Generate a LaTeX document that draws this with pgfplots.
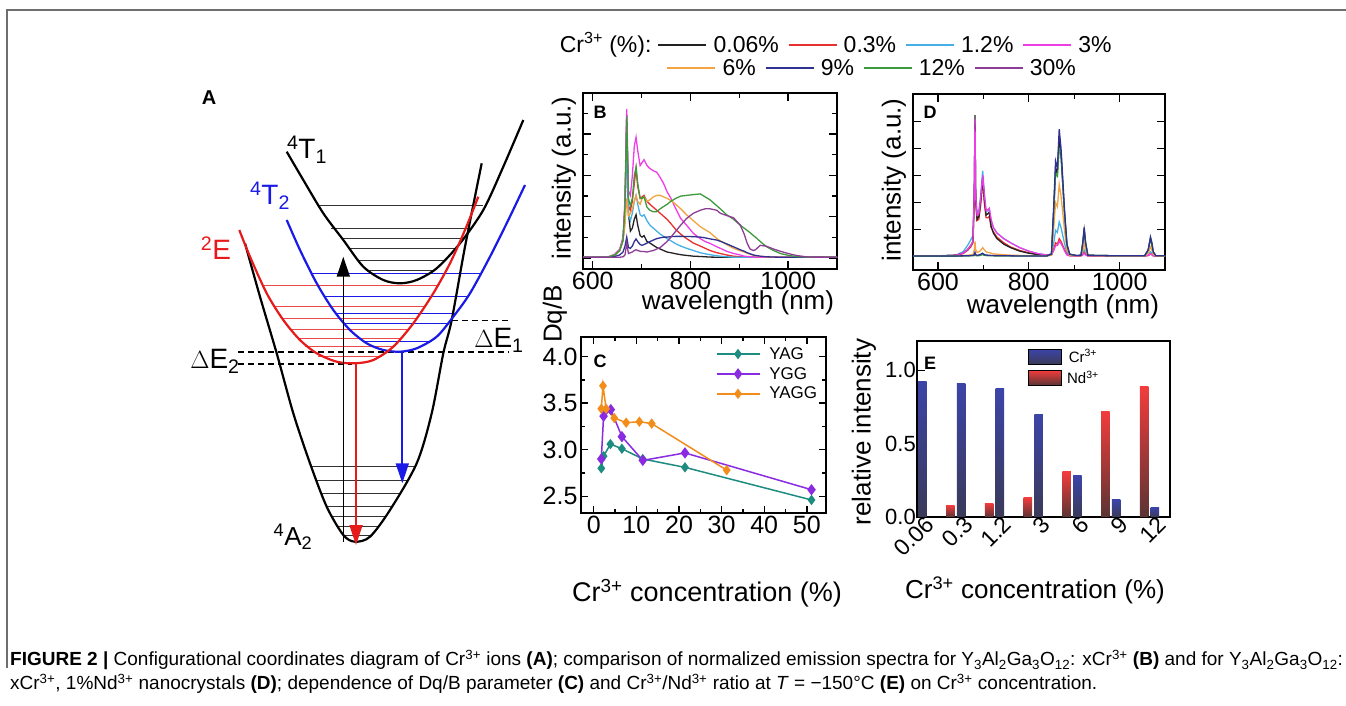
\documentclass[border=0pt]{standalone}
\usepackage{fontspec}
\setmainfont{Liberation Sans}
\usepackage{pgfplots}
\pgfplotsset{compat=1.18}
\usepackage{pgfplotstable}
\usetikzlibrary{arrows.meta}
\newcommand{\fs}[1]{\fontsize{#1}{#1}\selectfont}
\definecolor{cBk}{HTML}{222222}
\definecolor{cRd}{HTML}{E8302E}
\definecolor{cLb}{HTML}{45B0E5}
\definecolor{cMg}{HTML}{EE3DE6}
\definecolor{cOr}{HTML}{F2A444}
\definecolor{cNv}{HTML}{2E3192}
\definecolor{cGr}{HTML}{3C9A3C}
\definecolor{cPu}{HTML}{8E3D96}
\definecolor{cTeal}{HTML}{1E8C80}
\definecolor{cViolet}{HTML}{8A2BE2}
\definecolor{cOrC}{HTML}{F28C1A}
\definecolor{barB1}{HTML}{3C44A8}
\definecolor{barB2}{HTML}{3A3A58}
\definecolor{barR1}{HTML}{F23C3C}
\definecolor{barR2}{HTML}{5A3434}
\definecolor{aBlue}{HTML}{1A1AE6}
\definecolor{aRed}{HTML}{E61A1A}
\definecolor{frameGray}{HTML}{6E6E6E}

\pgfplotstableread{
x bk rd lb mg or nv gr pu
580 .005 .005 .005 .005 .005 .005 .005 .005
630 .005 .005 .005 .005 .005 .005 .005 .005
645 .02 .02 .02 .025 .02 .01 .02 .005
655 .05 .05 .05 .06 .05 .02 .05 .005
662 .12 .12 .12 .14 .12 .04 .12 .008
666 .35 .33 .30 .40 .22 .08 .35 .02
669.5 .96 .90 .80 1.0 .40 .14 .95 .10
673 .30 .35 .30 .45 .28 .07 .40 .03
677 .18 .32 .25 .42 .30 .065 .35 .035
681 .20 .38 .30 .55 .33 .08 .40 .04
685 .26 .50 .38 .75 .38 .11 .55 .05
688.6 .29 .60 .42 .81 .42 .128 .61 .055
692 .22 .48 .36 .72 .38 .11 .50 .05
697 .15 .40 .29 .62 .36 .09 .40 .045
701 .14 .41 .28 .64 .40 .085 .40 .043
705 .15 .42 .29 .66 .41 .09 .41 .043
711 .11 .38 .25 .62 .38 .10 .34 .04
717 .10 .36 .22 .60 .39 .11 .32 .045
724 .085 .34 .20 .585 .41 .12 .31 .05
731 .07 .32 .18 .575 .42 .13 .31 .06
738 .06 .30 .16 .54 .42 .135 .33 .07
745 .05 .28 .145 .50 .41 .14 .345 .09
752 .04 .26 .13 .445 .40 .14 .36 .11
760 .035 .23 .115 .40 .385 .143 .38 .14
770 .028 .19 .095 .33 .36 .145 .40 .18
780 .022 .16 .08 .265 .33 .145 .415 .22
792 .017 .13 .065 .22 .29 .144 .42 .265
806 .012 .10 .05 .165 .25 .143 .425 .30
820 .01 .08 .035 .13 .21 .14 .43 .32
830 .008 .065 .028 .11 .19 .135 .41 .33
840 .006 .05 .022 .098 .17 .128 .39 .33
854 .005 .035 .015 .075 .13 .12 .35 .32
861 .005 .03 .012 .065 .115 .112 .33 .30
874 .005 .02 .008 .045 .09 .095 .29 .285
888 .005 .012 .005 .03 .065 .075 .26 .27
902 .005 .008 .005 .02 .048 .055 .22 .22
910 .005 .006 .005 .012 .04 .045 .20 .16
916 .005 .005 .005 .01 .032 .035 .185 .10
922 .005 .005 .005 .008 .025 .028 .17 .06
929 .005 .005 .005 .006 .018 .02 .15 .05
933 .005 .005 .005 .005 .015 .017 .14 .055
943 .005 .005 .005 .005 .01 .012 .11 .085
956 .005 .005 .005 .005 .008 .008 .075 .078
970 .005 .005 .005 .005 .006 .006 .05 .06
984 .005 .005 .005 .005 .005 .005 .03 .045
1000 .005 .005 .005 .005 .005 .005 .018 .03
1015 .005 .005 .005 .005 .005 .005 .01 .018
1040 .005 .005 .005 .005 .005 .005 .005 .006
1100 .005 .005 .005 .005 .005 .005 .005 .005
}\tabB

\pgfplotstableread{
x bk rd lb mg or nv gr
545 .005 .005 .005 .005 .005 .005 .004
600 .005 .005 .006 .005 .005 .005 .004
640 .01 .01 .012 .01 .006 .005 .004
655 .025 .022 .035 .025 .008 .006 .005
665 .05 .045 .08 .05 .01 .007 .005
672 .08 .07 .12 .08 .012 .008 .006
677 .11 .10 .15 .11 .015 .009 .006
680 .45 .42 .48 .45 .05 .015 .008
681.5 1.02 .95 .97 .99 .11 .03 .015
683 .42 .40 .45 .43 .05 .015 .008
686 .27 .26 .32 .30 .03 .01 .006
690 .29 .27 .33 .31 .035 .012 .007
694 .40 .37 .44 .42 .045 .018 .01
698.5 .57 .55 .62 .59 .065 .025 .015
702 .42 .39 .46 .45 .05 .015 .01
706 .30 .28 .33 .33 .035 .012 .008
710 .31 .28 .33 .34 .03 .011 .007
713 .32 .29 .34 .35 .03 .01 .007
717 .22 .21 .26 .27 .025 .009 .006
722 .17 .18 .21 .21 .02 .008 .006
730 .13 .14 .17 .17 .018 .007 .005
745 .09 .10 .13 .13 .014 .006 .005
760 .065 .07 .10 .10 .011 .006 .005
780 .04 .045 .065 .065 .009 .005 .005
800 .025 .028 .04 .04 .007 .005 .005
820 .015 .016 .022 .022 .006 .005 .005
840 .01 .01 .012 .012 .006 .005 .005
850 .02 .012 .015 .012 .01 .02 .018
855 .34 .055 .10 .045 .21 .37 .33
859 .64 .10 .19 .08 .39 .69 .60
863 .60 .09 .175 .08 .36 .64 .58
867 .85 .13 .25 .11 .52 .92 .78
871 .72 .11 .21 .095 .44 .78 .76
875 .51 .08 .15 .07 .31 .55 .52
879 .30 .05 .09 .04 .18 .32 .29
884 .085 .015 .03 .013 .05 .092 .08
890 .017 .007 .01 .006 .01 .018 .016
905 .008 .005 .006 .005 .006 .008 .008
915 .01 .006 .007 .006 .008 .01 .01
919 .095 .015 .025 .013 .05 .105 .10
922 .19 .03 .05 .025 .10 .21 .20
925 .095 .015 .025 .013 .05 .105 .10
930 .01 .005 .007 .005 .008 .01 .01
1000 .006 .005 .005 .005 .005 .006 .006
1055 .006 .005 .005 .005 .005 .006 .006
1063 .045 .008 .013 .008 .025 .05 .05
1068 .13 .02 .035 .02 .07 .14 .14
1071 .09 .014 .025 .014 .05 .10 .10
1074 .033 .006 .01 .006 .018 .035 .035
1080 .006 .005 .005 .005 .005 .006 .006
1100 .006 .005 .005 .005 .005 .006 .006
}\tabD

\pgfplotsset{
  panel/.style={scale only axis, anchor=south west, tick align=inside,
    major tick length=8pt, minor tick length=5pt,
    tick style={line width=1.4pt, black},
    ticklabel style={font=\fs{25}},
    /pgf/number format/assume math mode=true,
    /pgf/number format/1000 sep={}},
  toplegend/.style={legend columns=-1,
    legend style={draw=none, fill=none, inner sep=0pt, font=\fs{23},
      nodes={inner sep=0pt}},
    legend image code/.code={\path (-9.5pt,0pt) (55pt,0pt);
      \draw[##1, line width=1.4pt] (0pt,0pt) -- (48pt,0pt);}},
}

\begin{document}
\begin{tikzpicture}
\path[use as bounding box] (0pt,0pt) rectangle (1346pt,706pt);

% ---------------- panel A, frame, texts, legend row 1 ----------------
\begin{axis}[at={(0pt,0pt)}, anchor=south west, scale only axis,
  width=1346pt, height=706pt, xmin=0, xmax=1346, ymin=0, ymax=706,
  y dir=reverse, hide axis, clip=false, toplegend,
  legend style={at={(axis cs:648.5,45)}, anchor=west}]
% frame
\addplot[frameGray, line width=2pt, forget plot] coordinates {(7,668) (7,10) (1346,10)};
% vibrational levels
\addplot[black!80, line width=0.8pt, forget plot] coordinates {(318,205) (483,205)};
\addplot[black!80, line width=0.8pt, forget plot] coordinates {(331,228.3) (470,228.3)};
\addplot[black!80, line width=0.8pt, forget plot] coordinates {(342,238.3) (463,238.3)};
\addplot[black!80, line width=0.8pt, forget plot] coordinates {(349,248.3) (455,248.3)};
\addplot[black!80, line width=0.8pt, forget plot] coordinates {(358,260) (445,260)};
\addplot[black!80, line width=0.8pt, forget plot] coordinates {(366,270) (435,270)};
\addplot[aBlue, line width=0.8pt, forget plot] coordinates {(312,273.3) (482,273.3)};
\addplot[aBlue, line width=0.8pt, forget plot] coordinates {(325,296.7) (468,296.7)};
\addplot[aBlue, line width=0.8pt, forget plot] coordinates {(336,313.3) (455,313.3)};
\addplot[aBlue, line width=0.8pt, forget plot] coordinates {(343,323) (448,323)};
\addplot[aBlue, line width=0.8pt, forget plot] coordinates {(364,341) (432,341)};
\addplot[aRed!80, line width=0.8pt, forget plot] coordinates {(263,285) (438,285)};
\addplot[aRed!80, line width=0.8pt, forget plot] coordinates {(275,306) (424,306)};
\addplot[aRed!80, line width=0.8pt, forget plot] coordinates {(282,318.3) (416,318.3)};
\addplot[aRed!80, line width=0.8pt, forget plot] coordinates {(291,329) (408,329)};
\addplot[aRed!80, line width=0.8pt, forget plot] coordinates {(299,338.3) (400,338.3)};
\addplot[aRed!80, line width=0.8pt, forget plot] coordinates {(305,346.7) (393,346.7)};
\addplot[aRed!80, line width=0.8pt, forget plot] coordinates {(318,356.7) (382,356.7)};
\addplot[black!80, line width=0.8pt, forget plot] coordinates {(311.3,466.7) (414.8,466.7)};
\addplot[black!80, line width=0.8pt, forget plot] coordinates {(316,480) (407,480)};
\addplot[black!80, line width=0.8pt, forget plot] coordinates {(321.6,493.3) (399.4,493.3)};
\addplot[black!80, line width=0.8pt, forget plot] coordinates {(326.7,506.7) (391.9,506.7)};
\addplot[black!80, line width=0.8pt, forget plot] coordinates {(332.6,516.7) (386,516.7)};
\addplot[black!80, line width=0.8pt, forget plot] coordinates {(338.4,526.7) (378,526.7)};
\addplot[black!80, line width=0.8pt, forget plot] coordinates {(343.3,535) (371,535)};
% dashed
\addplot[black, line width=1.2pt, dash pattern=on 6pt off 4pt, forget plot] coordinates {(451.7,320.7) (508.3,320.7)};
\addplot[black, line width=1.2pt, dash pattern=on 6pt off 4pt, forget plot] coordinates {(238,352) (508.3,352)};
\addplot[black, line width=1.2pt, dash pattern=on 6pt off 4pt, forget plot] coordinates {(238,364) (352,364)};
% potential curves
\addplot[black, line width=2.2pt, smooth, forget plot] coordinates {(245,243.3) (260,296.7) (276.7,353.3) (293.3,413.3) (310,463.3) (326.7,506.7) (343.3,535) (355,541.7) (370,536.7) (390,510) (416.7,463.3) (431.7,413.3) (443.3,353.3) (451.7,320) (465,246.7) (481.7,163.3)};
\addplot[black, line width=2.2pt, smooth, forget plot] coordinates {(286.7,151.7) (303.3,180) (323.3,213.3) (343.3,240) (363.3,266.7) (383.3,280) (400,283.3) (416.7,280) (436.7,268.3) (460,243.3) (483.3,210) (503.3,166.7) (523.3,120)};
\addplot[aBlue, line width=2.2pt, smooth, forget plot] coordinates {(286.7,220) (300,250) (316.7,283.3) (333.3,310) (350,330) (366.7,343.3) (383.3,350) (400,351.7) (416.7,348.3) (436.7,336.7) (453.3,316.7) (470,293.3) (490,256.7) (508.3,220) (525,185)};
\addplot[aRed, line width=2.2pt, smooth, forget plot] coordinates {(239.3,230) (250,256.7) (266.7,293.3) (283.3,320) (300,340) (316.7,353.3) (336.7,361.7) (355,363.3) (373.3,360) (393.3,346.7) (413.3,323.3) (433.3,293.3) (450,263.3) (465,230) (478.3,196.7)};
% arrows
\addplot[black, line width=1.6pt, -{Triangle[length=20pt,width=13pt]}, forget plot] coordinates {(343.3,541.7) (343.3,256.7)};
\addplot[aRed, line width=1.8pt, -{Triangle[length=20pt,width=13pt]}, forget plot] coordinates {(356,363.3) (356,545)};
\addplot[aBlue, line width=1.8pt, -{Triangle[length=20pt,width=13pt]}, forget plot] coordinates {(402.3,351.7) (402.3,483.3)};
% panel A labels
\node[font=\fs{20}\bfseries] at (axis cs:209,98) {A};
\node[font=\fs{28}] at (axis cs:307,150) {\textsuperscript{4}T\textsubscript{1}};
\node[font=\fs{28}, text=aBlue] at (axis cs:270,196) {\textsuperscript{4}T\textsubscript{2}};
\node[font=\fs{28}, text=aRed] at (axis cs:216,248) {\textsuperscript{2}E};
\node[font=\fs{28}] at (axis cs:499,340) {$\Delta$E\textsubscript{1}};
\node[font=\fs{28}] at (axis cs:215,361) {$\Delta$E\textsubscript{2}};
\node[font=\fs{26}] at (axis cs:293,537) {\textsuperscript{4}A\textsubscript{2}};
% panel letters
\node[font=\fs{18}\bfseries] at (axis cs:600,112) {B};
\node[font=\fs{18}\bfseries] at (axis cs:930,112) {D};
\node[font=\fs{18}\bfseries] at (axis cs:600,361) {C};
\node[font=\fs{18}\bfseries] at (axis cs:930,363) {E};
% axis labels
\node[font=\fs{26}, rotate=90] at (axis cs:564,178) {intensity (a.u.)};
\node[font=\fs{26}] at (axis cs:738,303) {wavelength (nm)};
\node[font=\fs{26}, rotate=90] at (axis cs:894,180) {intensity (a.u.)};
\node[font=\fs{26}] at (axis cs:1063,307) {wavelength (nm)};
\node[font=\fs{26}, rotate=90] at (axis cs:555,314) {Dq/B};
\node[font=\fs{27}] at (axis cs:707,593) {Cr\textsuperscript{3+} concentration (\%)};
\node[font=\fs{26}, rotate=90] at (axis cs:864,432) {relative intensity};
\node[font=\fs{26}] at (axis cs:1035,590) {Cr\textsuperscript{3+} concentration (\%)};
\node[font=\fs{23}, anchor=east] at (axis cs:655,45) {Cr\textsuperscript{3+} (\%):};
% caption
\node[font=\fs{19}, anchor=west, inner sep=0pt] at (axis cs:10,660) {\textbf{FIGURE 2 |} Configurational coordinates diagram of Cr\textsuperscript{3+} ions \textbf{(A)}; comparison of normalized emission spectra for Y\textsubscript{3}Al\textsubscript{2}Ga\textsubscript{3}O\textsubscript{12}: xCr\textsuperscript{3+} \textbf{(B)} and for Y\textsubscript{3}Al\textsubscript{2}Ga\textsubscript{3}O\textsubscript{12}:};
\node[font=\fs{19}, anchor=west, inner sep=0pt] at (axis cs:10,684) {xCr\textsuperscript{3+}, 1\%Nd\textsuperscript{3+} nanocrystals \textbf{(D)}; dependence of Dq/B parameter \textbf{(C)} and Cr\textsuperscript{3+}/Nd\textsuperscript{3+} ratio at \textit{T} = −150°C \textbf{(E)} on Cr\textsuperscript{3+} concentration.};
\addlegendimage{cBk}\addlegendentry{0.06\%}
\addlegendimage{cRd}\addlegendentry{0.3\%}
\addlegendimage{cLb}\addlegendentry{1.2\%}
\addlegendimage{cMg}\addlegendentry{3\%}
\end{axis}

% legend row 2
\begin{axis}[at={(0pt,0pt)}, anchor=south west, scale only axis,
  width=1346pt, height=706pt, xmin=0, xmax=1346, ymin=0, ymax=706,
  y dir=reverse, hide axis, clip=false, toplegend,
  legend style={at={(axis cs:657.5,68)}, anchor=west}]
\addlegendimage{cOr}\addlegendentry{6\%}
\addlegendimage{cNv}\addlegendentry{9\%}
\addlegendimage{cGr}\addlegendentry{12\%}
\addlegendimage{cPu}\addlegendentry{30\%}
\end{axis}

% ---------------- panel B ----------------
\begin{axis}[panel, at={(583pt,437pt)}, width=254pt, height=176pt,
  xmin=580, xmax=1100, ymin=-0.074, ymax=1.107,
  xtick={600,800,1000}, minor xtick={700,900},
  ytick={0,0.277,0.554,0.831}, minor ytick={0.1385,0.4155,0.6925,0.9695},
  yticklabels={}, axis line style={line width=2.5pt}]
\addplot[cBk, line width=1.3pt] table[x=x, y=bk] {\tabB};
\addplot[cRd, line width=1.3pt] table[x=x, y=rd] {\tabB};
\addplot[cLb, line width=1.3pt] table[x=x, y=lb] {\tabB};
\addplot[cMg, line width=1.3pt] table[x=x, y=mg] {\tabB};
\addplot[cOr, line width=1.3pt] table[x=x, y=or] {\tabB};
\addplot[cNv, line width=1.3pt] table[x=x, y=nv] {\tabB};
\addplot[cGr, line width=1.3pt] table[x=x, y=gr] {\tabB};
\addplot[cPu, line width=1.3pt] table[x=x, y=pu] {\tabB};
\end{axis}

% ---------------- panel D ----------------
\begin{axis}[panel, at={(913pt,436pt)}, width=252pt, height=176pt,
  xmin=545, xmax=1100, ymin=-0.096, ymax=1.173,
  xtick={600,800,1000}, minor xtick={700,900},
  ytick={0,0.195,0.39,0.585,0.78,0.975},
  yticklabels={}, axis line style={line width=2.5pt}]
\addplot[cLb, line width=1.3pt] table[x=x, y=lb] {\tabD};
\addplot[cRd, line width=1.3pt] table[x=x, y=rd] {\tabD};
\addplot[cBk, line width=1.3pt] table[x=x, y=bk] {\tabD};
\addplot[cMg, line width=1.3pt] table[x=x, y=mg] {\tabD};
\addplot[cOr, line width=1.3pt] table[x=x, y=or] {\tabD};
\addplot[cGr, line width=1.3pt] table[x=x, y=gr] {\tabD};
\addplot[cNv, line width=1.3pt] table[x=x, y=nv] {\tabD};
\end{axis}

% ---------------- panel C ----------------
\begin{axis}[panel, at={(581pt,193pt)}, width=245pt, height=176pt,
  xmin=-3, xmax=54.5, ymin=2.32, ymax=4.21,
  xtick={0,10,...,50}, ytick={2.5,3,3.5,4},
  minor x tick num=1, minor y tick num=1,
  major tick length=7pt, minor tick length=4pt,
  axis line style={line width=2pt},
  y tick label style={/pgf/number format/fixed, /pgf/number format/fixed zerofill, /pgf/number format/precision=1},
  legend cell align=left,
  legend style={at={(axis description cs:0.985,0.965)}, anchor=north east,
    draw=none, fill=none, font=\fs{17}, nodes={inner sep=2pt}, row sep=2.5pt},
  legend image code/.code={\path (0pt,0pt) (50pt,0pt);
    \draw[mark repeat=2, mark phase=2, #1] plot coordinates {(0pt,0pt) (21.5pt,0pt) (43pt,0pt)};}]
\addplot[cTeal, line width=1.5pt, mark=diamond*, mark size=4pt, mark options={fill=cTeal}] coordinates {(1.76,2.80) (2.3,2.93) (3.9,3.06) (6.6,3.01) (11.5,2.90) (21.4,2.81) (51.1,2.46)};
\addlegendentry{YAG}
\addplot[cViolet, line width=1.5pt, mark=diamond*, mark size=4.5pt, mark options={fill=cViolet}] coordinates {(1.76,2.90) (2.3,3.36) (4.0,3.43) (6.6,3.14) (11.5,2.885) (21.4,2.965) (51.1,2.57)};
\addlegendentry{YGG}
\addplot[cOrC, line width=1.5pt, mark=diamond*, mark size=4pt, mark options={fill=cOrC}] coordinates {(1.76,3.44) (2.16,3.686) (2.9,3.44) (4.8,3.34) (7.6,3.29) (10.7,3.30) (13.6,3.28) (31.2,2.78)};
\addlegendentry{YAGG}
\end{axis}

% ---------------- panel E ----------------
\begin{axis}[panel, at={(917pt,189pt)}, width=253pt, height=176pt,
  xmin=0, xmax=6.53, ymin=0, ymax=1.2,
  xtick={0,1,2,3,4,5,6}, xticklabels={0.06,0.3,1.2,3,6,9,12},
  x tick label style={rotate=45, anchor=north east, xshift=10pt, font=\fs{23}},
  y tick label style={/pgf/number format/fixed, /pgf/number format/fixed zerofill, /pgf/number format/precision=1, font=\fs{22}, inner sep=1pt},
  ytick={0,0.5,1}, xtick style={draw=none}, ytick pos=left,
  axis line style={line width=2pt},
  legend style={at={(axis description cs:0.427,0.972)}, anchor=north west,
    draw=none, fill=none, font=\fs{15}, nodes={inner sep=1.5pt}, row sep=4pt},
  legend image code/.code={\path[#1] (0pt,-7.5pt) rectangle (33pt,7.5pt); \path (37pt,0pt);}]
\addplot[ybar, bar width=0.22, bar shift=0.14, draw=none, top color=barB1, bottom color=barB2, forget plot] coordinates {(0,0.924)};
\addplot[ybar, bar width=0.22, bar shift=-0.14, draw=none, top color=barR1, bottom color=barR2, forget plot] coordinates {(1,0.079)};
\addplot[ybar, bar width=0.22, bar shift=0.14, draw=none, top color=barB1, bottom color=barB2, forget plot] coordinates {(1,0.911)};
\addplot[ybar, bar width=0.22, bar shift=-0.14, draw=none, top color=barR1, bottom color=barR2, forget plot] coordinates {(2,0.095)};
\addplot[ybar, bar width=0.22, bar shift=0.14, draw=none, top color=barB1, bottom color=barB2, forget plot] coordinates {(2,0.875)};
\addplot[ybar, bar width=0.22, bar shift=-0.14, draw=none, top color=barR1, bottom color=barR2, forget plot] coordinates {(3,0.132)};
\addplot[ybar, bar width=0.22, bar shift=0.14, draw=none, top color=barB1, bottom color=barB2, forget plot] coordinates {(3,0.70)};
\addplot[ybar, bar width=0.22, bar shift=-0.14, draw=none, top color=barR1, bottom color=barR2, forget plot] coordinates {(4,0.307)};
\addplot[ybar, bar width=0.22, bar shift=0.14, draw=none, top color=barB1, bottom color=barB2, forget plot] coordinates {(4,0.28)};
\addplot[ybar, bar width=0.22, bar shift=-0.14, draw=none, top color=barR1, bottom color=barR2, forget plot] coordinates {(5,0.72)};
\addplot[ybar, bar width=0.22, bar shift=0.14, draw=none, top color=barB1, bottom color=barB2, forget plot] coordinates {(5,0.118)};
\addplot[ybar, bar width=0.22, bar shift=-0.14, draw=none, top color=barR1, bottom color=barR2, forget plot] coordinates {(6,0.89)};
\addplot[ybar, bar width=0.22, bar shift=0.14, draw=none, top color=barB1, bottom color=barB2, forget plot] coordinates {(6,0.066)};
\addlegendimage{top color=barB1, bottom color=barB2}\addlegendentry{Cr\textsuperscript{3+}}
\addlegendimage{top color=barR1, bottom color=barR2}\addlegendentry{Nd\textsuperscript{3+}}
\end{axis}
\end{tikzpicture}
\end{document}
